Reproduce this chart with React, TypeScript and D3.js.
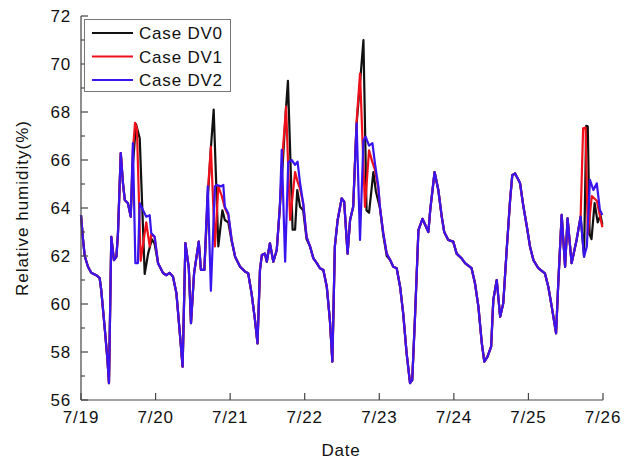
import React from 'react';
import * as d3 from 'd3';

// Time axis: hours since 7/19 00:00
const dayLabels = ['7/19', '7/20', '7/21', '7/22', '7/23', '7/24', '7/25', '7/26'];
const yMajorTicks = [56, 58, 60, 62, 64, 66, 68, 70, 72];
const yMinorTicks = [57, 59, 61, 63, 65, 67, 69, 71];
const seriesNames = ['Case DV0', 'Case DV1', 'Case DV2'];
const seriesColors = ['#111111', '#f0101c', '#3a14ee'];

// Case DV2 relative humidity, [hour, RH %]
const dv2: [number, number][] = [
  [0, 63.7], [0.64, 62.7], [1.2, 62.0], [2.25, 61.55], [3.3, 61.3], [4.9, 61.2], [6.0, 61.08], [6.5, 60.6],
  [7.6, 59.05], [8.5, 57.7], [9.0, 56.7], [9.75, 62.8], [10.6, 61.83], [11.4, 61.97], [11.9, 62.96], [12.8, 66.29],
  [13.5, 65.04], [14.1, 64.33], [15.1, 64.2], [16.0, 63.64], [16.7, 66.7], [17.5, 61.7], [18.3, 61.7], [18.9, 64.2],
  [20.0, 63.9], [21.0, 63.64], [22.1, 63.7], [22.6, 62.96], [23.7, 62.8], [24.8, 61.7], [26.4, 61.29], [27.5, 61.2],
  [28.5, 61.3], [29.6, 61.14], [30.7, 60.46], [31.8, 58.8], [32.7, 57.39], [33.6, 62.54], [34.7, 61.5], [35.4, 59.2],
  [36.4, 61.29], [37.9, 62.6], [38.6, 61.42], [39.7, 61.42], [40.8, 64.9], [41.8, 60.55], [43.1, 64.9], [43.7, 64.96],
  [45.1, 64.9], [45.8, 64.96], [46.3, 64.05], [47.4, 63.78], [48.5, 62.67], [49.6, 61.97], [51.2, 61.55], [52.8, 61.35],
  [53.8, 61.28], [54.9, 60.44], [56.0, 59.33], [56.8, 58.36], [57.6, 61.42], [58.2, 62.04], [59.2, 62.1], [59.8, 61.76],
  [60.8, 62.53], [61.9, 61.76], [63.0, 62.25], [64.0, 64.05], [64.6, 66.42], [65.7, 61.76], [66.7, 65.9], [67.8, 66.0],
  [68.9, 65.8], [69.7, 65.93], [70.5, 65.04], [71.5, 64.2], [72.6, 62.8], [73.7, 62.4], [74.8, 61.9], [75.9, 61.7],
  [76.9, 61.49], [78.0, 61.42], [79.1, 60.72], [80.1, 59.33], [80.9, 57.6], [81.7, 62.4], [82.6, 63.5], [83.9, 64.4],
  [84.7, 64.26], [85.8, 62.1], [86.6, 63.5], [87.6, 64.05], [88.7, 67.53], [89.8, 62.67], [90.9, 66.83], [91.6, 66.97],
  [92.7, 66.6], [93.8, 66.7], [94.6, 65.86], [95.7, 64.9], [96.2, 64.05], [97.3, 62.94], [98.4, 62.1], [99.5, 61.83],
  [100.5, 61.55], [101.6, 61.49], [102.7, 60.72], [103.7, 59.6], [104.8, 57.94], [105.9, 56.7], [106.6, 56.83], [107.5, 59.47],
  [108.6, 63.08], [109.9, 63.55], [111.8, 63.0], [112.4, 63.92], [113.8, 65.5], [115.0, 64.75], [116.1, 63.64], [116.9, 63.0],
  [118.2, 62.67], [119.8, 62.6], [120.9, 62.1], [122.5, 61.9], [123.6, 61.7], [125.7, 61.49], [126.8, 60.86], [127.9, 59.89],
  [129.0, 58.36], [129.8, 57.6], [130.8, 57.8], [132.0, 58.22], [132.7, 60.17], [133.8, 61.0], [134.9, 59.47], [135.9, 60.03],
  [137.0, 62.25], [138.1, 64.33], [138.8, 65.37], [139.7, 65.44], [140.8, 65.17], [141.3, 65.03], [142.4, 64.05], [143.5, 63.22],
  [144.5, 62.4], [145.6, 61.83], [147.2, 61.49], [149.3, 61.28], [150.4, 60.72], [151.5, 59.89], [152.9, 58.78], [153.6, 60.86],
  [154.7, 63.71], [155.8, 61.55], [156.6, 63.57], [157.9, 61.7], [159.5, 62.67], [160.8, 63.64], [161.9, 61.97], [162.8, 62.4],
  [163.8, 65.17], [164.9, 64.75], [166.0, 65.03], [167.0, 63.92], [167.8, 63.71],
];

// Case DV1: evening periods where it departs from Case DV2
const dv1Segments: [number, number][][] = [
  [[16.0, 63.64], [16.7, 66.4], [17.4, 67.55], [18.0, 67.3], [19.2, 61.8], [21.0, 63.4], [22.1, 62.4], [22.6, 62.9], [23.7, 62.8]],
  [[39.7, 61.42], [40.8, 64.6], [41.8, 66.55], [43.1, 62.4], [44.2, 64.9], [45.3, 64.5], [46.3, 64.0], [47.4, 63.7], [48.5, 62.67]],
  [[64.0, 64.05], [64.9, 66.3], [66.0, 68.22], [67.3, 63.5], [68.9, 65.5], [69.7, 65.1], [70.5, 64.8], [71.5, 64.2]],
  [[87.6, 64.05], [88.7, 67.6], [89.8, 69.6], [91.4, 64.05], [92.7, 66.4], [93.8, 65.9], [94.6, 65.6], [95.7, 64.8], [96.2, 64.05]],
  [[160.8, 63.64], [161.6, 67.32], [162.4, 67.35], [163.1, 62.9], [164.4, 64.5], [166.0, 64.3], [167.8, 63.2]],
];

// Case DV0: evening periods where it departs from Case DV2
const dv0Segments: [number, number][][] = [
  [[16.0, 63.64], [16.7, 65.8], [17.7, 67.5], [18.9, 66.9], [20.5, 61.25], [21.6, 62.1], [22.8, 62.7], [23.7, 62.5], [24.8, 61.7]],
  [[39.7, 61.42], [40.8, 64.4], [41.8, 66.5], [42.7, 68.1], [44.2, 62.4], [45.5, 63.9], [46.3, 63.5], [47.4, 63.4], [48.5, 62.6]],
  [[64.0, 64.05], [65.0, 66.0], [65.9, 68.0], [66.6, 69.3], [68.1, 63.1], [68.9, 63.1], [69.6, 64.75], [70.5, 64.05], [71.5, 63.9], [72.6, 62.7]],
  [[87.6, 64.05], [88.7, 67.5], [89.8, 69.2], [90.9, 71.0], [91.9, 63.9], [92.7, 63.8], [94.1, 65.5], [94.9, 64.7], [96.2, 64.0], [97.3, 62.85], [98.4, 62.0]],
  [[161.9, 61.97], [162.6, 67.42], [163.1, 67.4], [163.7, 62.9], [164.3, 62.7], [165.3, 64.2], [166.3, 63.4], [167.2, 63.7], [167.8, 63.3]],
];

// Replace the shared trace with each segment inside its time span
function withSegments(base: [number, number][], segs: [number, number][][]): [number, number][] {
  let pts = base.slice();
  for (const s of segs) {
    const t0 = s[0][0];
    const t1 = s[s.length - 1][0];
    pts = pts.filter(([t]) => t < t0 || t > t1).concat(s);
  }
  return pts.sort((a, b) => a[0] - b[0]);
}

const dv0 = withSegments(dv2, dv0Segments);
const dv1 = withSegments(dv2, dv1Segments);

const W = 636;
const H = 460;
const left = 81;
const right = 603;
const top = 16;
const bottom = 400;
const axisColor = '#444';
const font = '"Liberation Sans", Arial, sans-serif';

export default function App() {
  const x = d3.scaleLinear().domain([0, 168]).range([left, right]);
  const y = d3.scaleLinear().domain([56, 72]).range([bottom, top]);
  const line = d3
    .line<[number, number]>()
    .x((d) => x(d[0]))
    .y((d) => y(d[1]))
    .curve(d3.curveLinear);

  const series = [dv0, dv1, dv2];
  const dayTicks = dayLabels.map((_, i) => i * 24);

  return (
    <svg
      width={W}
      height={H}
      style={{ position: 'absolute', left: 0, top: 0, background: '#fff' }}
      fontFamily={font}
    >
      <rect x={0} y={0} width={W} height={H} fill="#fff" />
      {/* data lines */}
      {series.map((s, i) => (
        <path
          key={seriesNames[i]}
          d={line(s) || ''}
          fill="none"
          stroke={seriesColors[i]}
          strokeWidth={2.2}
          strokeLinejoin="round"
        />
      ))}
      {/* axes */}
      <line x1={left} x2={left} y1={top} y2={bottom} stroke={axisColor} strokeWidth={1.2} />
      <line x1={left} x2={right} y1={bottom} y2={bottom} stroke={axisColor} strokeWidth={1.2} />
      {yMajorTicks.map((v) => (
        <g key={'ym' + v}>
          <line x1={left} x2={left + 7} y1={y(v)} y2={y(v)} stroke={axisColor} strokeWidth={1.2} />
          <text
            x={71}
            y={y(v)}
            dy="0.36em"
            textAnchor="end"
            fontSize={17}
            letterSpacing={0.8}
            fill="#111"
          >
            {v}
          </text>
        </g>
      ))}
      {yMinorTicks.map((v) => (
        <line key={'yn' + v} x1={left} x2={left + 4} y1={y(v)} y2={y(v)} stroke={axisColor} strokeWidth={1.2} />
      ))}
      {dayTicks.map((t, i) => (
        <g key={'x' + t}>
          <line x1={x(t)} x2={x(t)} y1={bottom} y2={bottom - 7} stroke={axisColor} strokeWidth={1.2} />
          <text x={x(t)} y={423} textAnchor="middle" fontSize={17} letterSpacing={0.8} fill="#111">
            {dayLabels[i]}
          </text>
        </g>
      ))}
      <text x={341} y={456} textAnchor="middle" fontSize={17} letterSpacing={0.8} fill="#111">
        Date
      </text>
      <text
        transform={`translate(28, ${(top + bottom) / 2}) rotate(-90)`}
        textAnchor="middle"
        fontSize={17}
        letterSpacing={1}
        fill="#111"
      >
        Relative humidity(%)
      </text>
      {/* legend */}
      <rect x={84.5} y={19.5} width={146} height={72} fill="#fff" stroke="#777" strokeWidth={1} />
      {seriesNames.map((n, i) => {
        const ly = 33 + i * 23.5;
        return (
          <g key={'lg' + n}>
            <line x1={92} x2={133} y1={ly} y2={ly} stroke={seriesColors[i]} strokeWidth={2} />
            <text x={139} y={ly} dy="0.36em" fontSize={17} letterSpacing={0.8} fill="#111">
              {n}
            </text>
          </g>
        );
      })}
    </svg>
  );
}
